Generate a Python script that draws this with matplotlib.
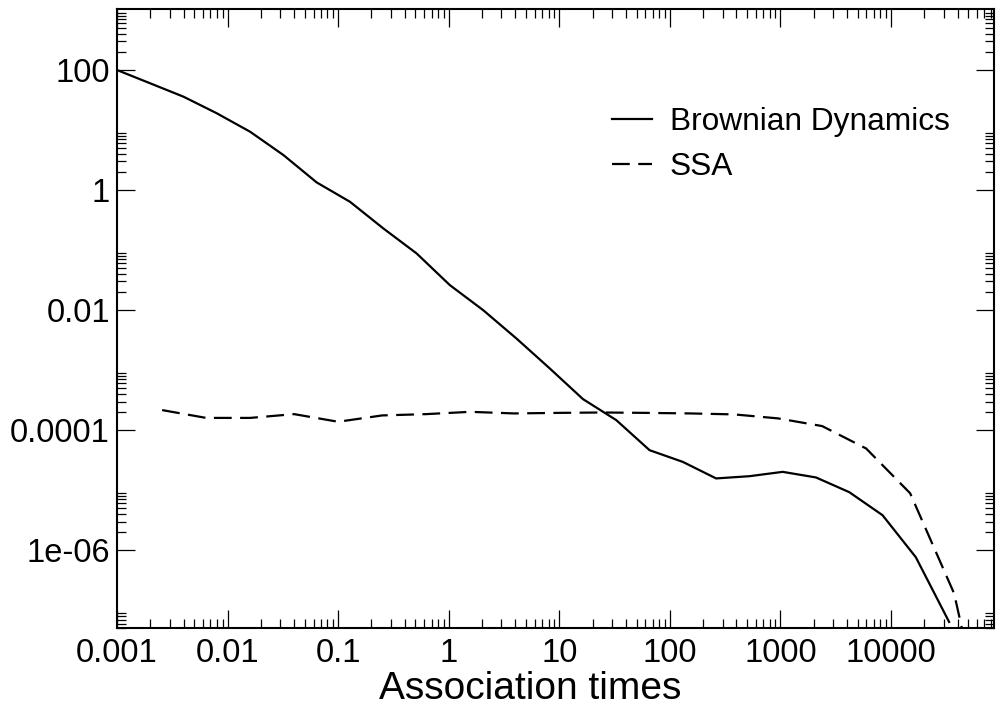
import numpy as np
import matplotlib
matplotlib.use('Agg')
import matplotlib.pyplot as plt
from matplotlib.ticker import FixedLocator, FixedFormatter, NullFormatter

plt.rcParams['font.family'] = ['Liberation Sans', 'DejaVu Sans']

# Brownian Dynamics (solid)
bd_t = [0.001, 0.002, 0.004, 0.008, 0.016, 0.032, 0.064, 0.128, 0.256, 0.512,
        1.024, 2.048, 4.096, 8.192, 16.384, 32.768, 65.536, 131.07, 262.14, 524.29,
        1048.6, 2097.2, 4194.3, 8388.6, 16777, 33554]
bd_p = [100, 60, 35.9, 19.0, 9.37, 3.83, 1.34, 0.638, 0.230, 0.0881,
        0.0261, 0.0100, 0.00337, 0.00107, 3.29e-4, 1.47e-4, 4.64e-5, 2.96e-5, 1.57e-5, 1.71e-5,
        2.02e-5, 1.63e-5, 9.27e-6, 3.83e-6, 7.64e-7, 6.38e-8]

# SSA (dashed)
ssa_t = [0.00256, 0.0064, 0.016, 0.04, 0.1, 0.25, 0.625, 1.5625, 3.906, 9.766,
         24.41, 61.04, 152.6, 381.5, 953.7, 2384, 5960, 14901, 37253, 93132]
ssa_p = [2.16e-4, 1.60e-4, 1.60e-4, 1.85e-4, 1.38e-4, 1.76e-4, 1.85e-4, 2.02e-4, 1.90e-4, 1.94e-4,
         1.97e-4, 1.94e-4, 1.90e-4, 1.83e-4, 1.57e-4, 1.17e-4, 4.95e-5, 8.9e-6, 1.90e-7, 1e-10]

x_major = [0.001, 0.01, 0.1, 1, 10, 100, 1000, 10000]
x_labels = ['0.001', '0.01', '0.1', '1', '10', '100', '1000', '10000']
y_major = [1e-6, 1e-4, 1e-2, 1, 100]
y_labels = ['1e-06', '0.0001', '0.01', '1', '100']

fig = plt.figure(figsize=(10, 7.13), dpi=100)
ax = fig.add_axes([0.117, 0.1188, 0.8773, 0.8686])

ax.plot(bd_t, bd_p, color='black', lw=1.6, label='Brownian Dynamics')
ax.plot(ssa_t, ssa_p, color='black', lw=1.6, dashes=(8, 3.8), label='SSA')

ax.set_xscale('log')
ax.set_yscale('log')
ax.set_xlim(0.001, 86000)
ax.set_ylim(5e-8, 1040)

# ticks
ax.xaxis.set_major_locator(FixedLocator(x_major))
ax.xaxis.set_major_formatter(FixedFormatter(x_labels))
x_minor = [m * 10.0 ** e for e in range(-3, 5) for m in range(2, 10)]
ax.xaxis.set_minor_locator(FixedLocator(x_minor))
ax.xaxis.set_minor_formatter(NullFormatter())

ax.yaxis.set_major_locator(FixedLocator(y_major))
ax.yaxis.set_major_formatter(FixedFormatter(y_labels))
y_minor = [m * 10.0 ** e for e in range(-8, 3, 2) for m in range(2, 10)]
ax.yaxis.set_minor_locator(FixedLocator(y_minor))
ax.yaxis.set_minor_formatter(NullFormatter())

ax.tick_params(which='both', direction='in', top=True, right=True, width=0.9, colors='black')
ax.tick_params(which='major', length=13, labelsize=23.5)
ax.tick_params(which='minor', length=6.5)
ax.tick_params(axis='x', which='major', pad=7)
ax.tick_params(axis='y', which='major', pad=5)

for s in ax.spines.values():
    s.set_linewidth(1.5)

fig.text(0.53, 0.008, 'Association times', fontsize=28, ha='center', va='bottom')

ax.legend(loc='upper left', bbox_to_anchor=(0.612, 1 - 107 / 713), bbox_transform=fig.transFigure,
          frameon=False, fontsize=22.8, handlelength=1.25, handletextpad=0.57,
          labelspacing=0.47, borderpad=0, borderaxespad=0)

fig.savefig('out.png', dpi=100)
